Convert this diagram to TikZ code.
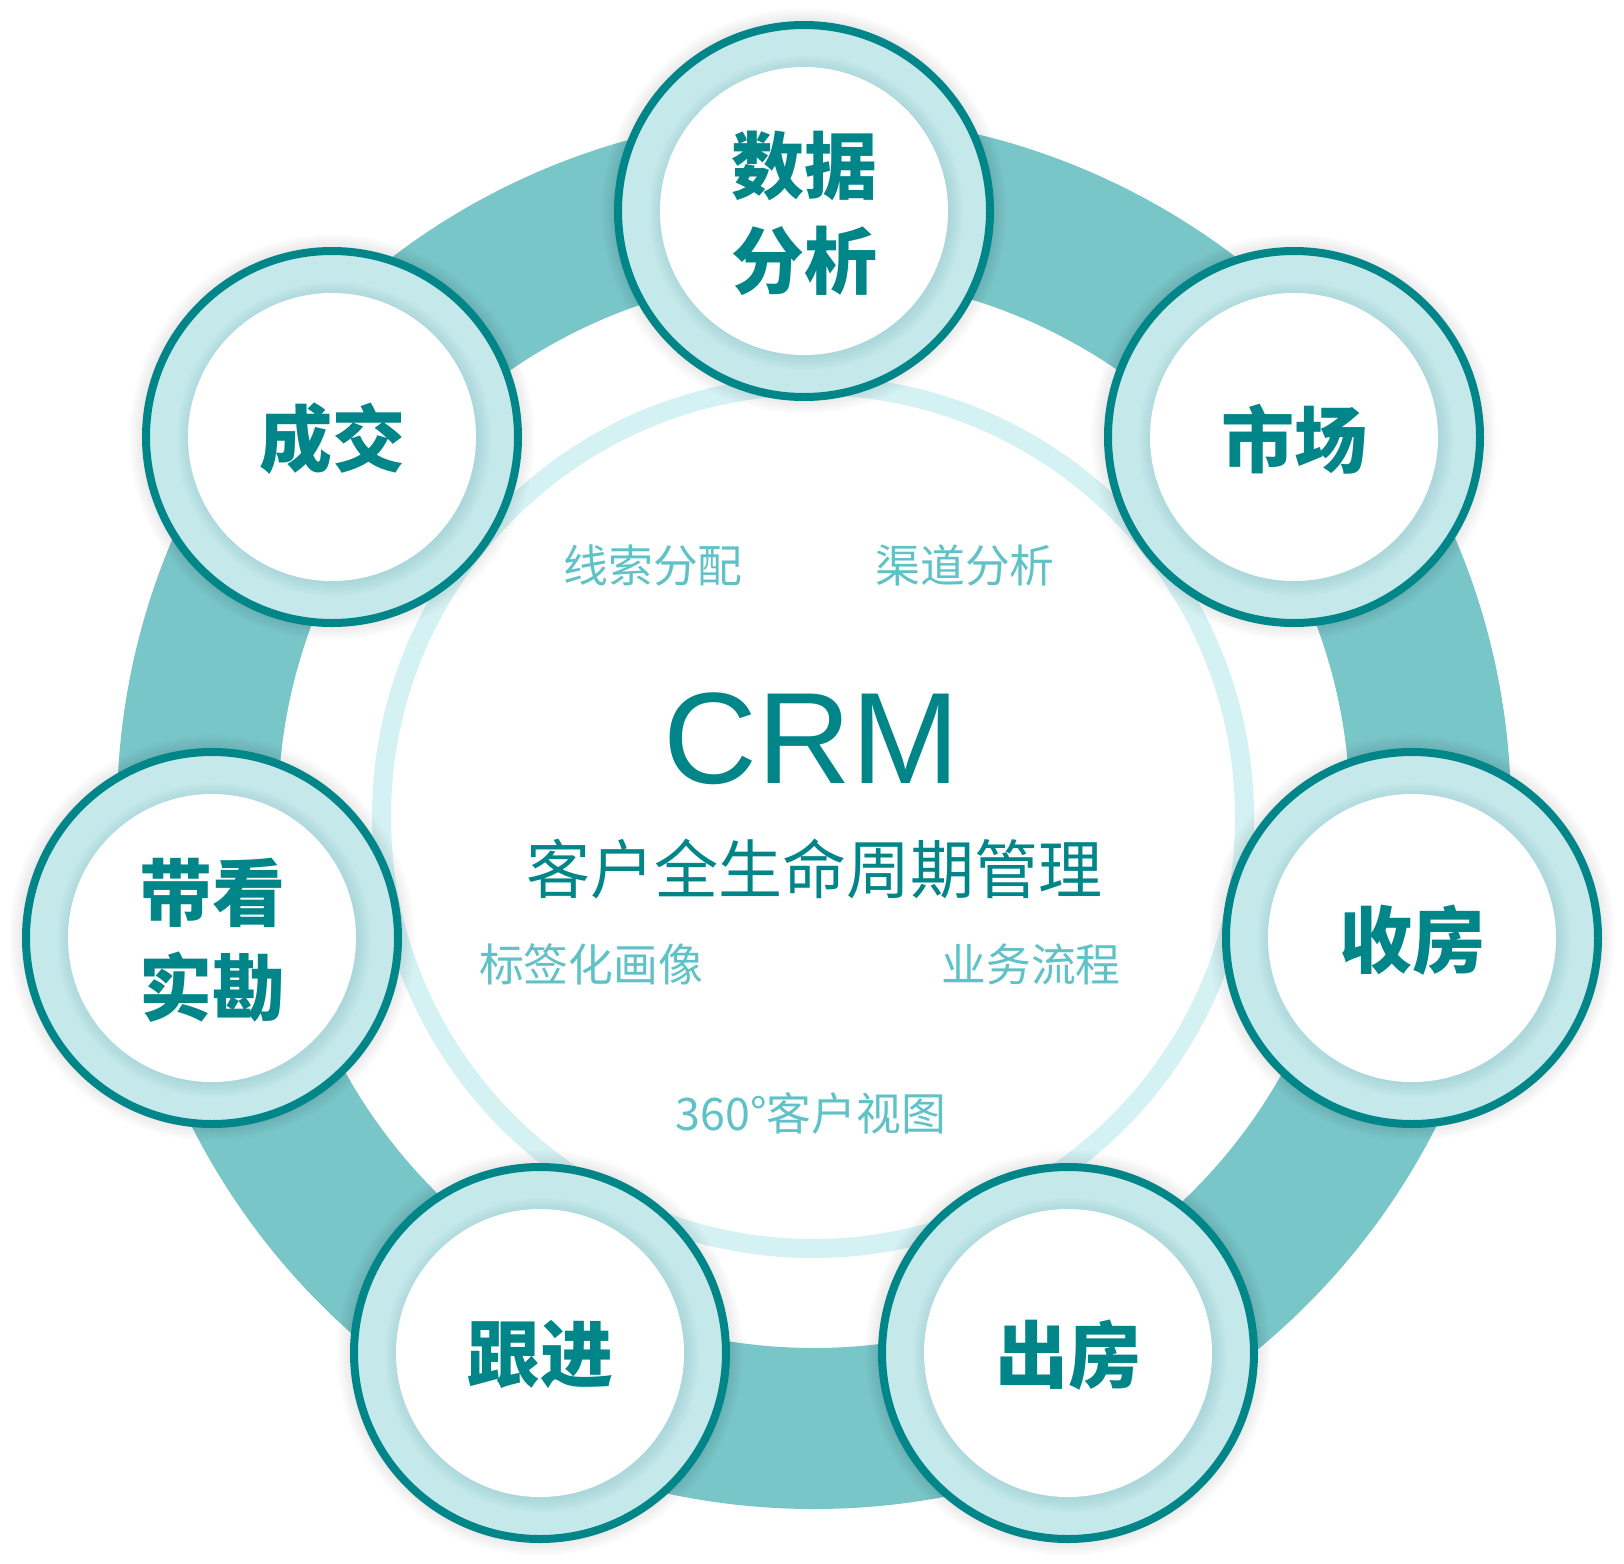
\documentclass[tikz,border=0pt]{standalone}
\usepackage{fontspec}
\setmainfont{Liberation Sans}
\newfontfamily\cjk{Noto Sans CJK SC}
\definecolor{darkteal}{RGB}{0,133,137}
\definecolor{ringteal}{RGB}{121,198,201}
\definecolor{nodefill}{RGB}{197,233,235}
\definecolor{palering}{RGB}{212,241,243}
\definecolor{labelc}{RGB}{94,194,198}
\definecolor{shadowc}{RGB}{60,140,145}
\tikzset{
  nodetext/.style={font=\cjk\bfseries\fontsize{36.5pt}{47.5pt}\selectfont, text=darkteal, align=center, inner sep=0pt},
  smalllabel/.style={font=\cjk\fontsize{22.4pt}{26pt}\selectfont, text=labelc, inner sep=0pt},
  titletext/.style={font=\cjk\fontsize{32pt}{38pt}\selectfont, text=darkteal, inner sep=0pt},
  crmtext/.style={font=\fontsize{65pt}{70pt}\selectfont, text=darkteal, inner sep=0pt, anchor=base}
}
\begin{document}
\begin{tikzpicture}[x=0.5pt,y=-0.5pt]
\useasboundingbox (0,0) rectangle (1624,1564);
\fill[white] (0,0) rectangle (1624,1564);
% big teal ring
\fill[ringteal, even odd rule] (814,812) circle[radius=697] (814,812) circle[radius=536];
% pale inner ring
\draw[palering, line width=9.5pt] (813,817) circle[radius=431.5];
% stage circles
\foreach \px/\py in {804/211, 1294/437, 1412/938, 1068/1353, 540/1353, 212/938, 332/437} {
  \foreach \r in {191,193,...,203} \fill[black, opacity=0.012] (\px,\py) circle[radius=\r];
  \fill[nodefill] (\px,\py) circle[radius=186];
  \draw[darkteal, line width=4pt] (\px,\py) circle[radius=186];
  \foreach \r in {145,147,...,157} \fill[shadowc, opacity=0.025] (\px+2,\py+2) circle[radius=\r];
  \fill[white] (\px,\py) circle[radius=144];
}
% stage labels
\node[nodetext] (s1) at (804,213) {数据\\分析};
\node[nodetext] (s2) at (1294,439) {市场};
\node[nodetext] (s3) at (1412,940) {收房};
\node[nodetext] (s4) at (1068,1355) {出房};
\node[nodetext] (s5) at (540,1355) {跟进};
\node[nodetext] (s6) at (212,940) {带看\\实勘};
\node[nodetext] (s7) at (332,439) {成交};
% centre
\node[crmtext] (crm) at (812,783) {CRM};
\node[titletext] (title) at (814,869) {客户全生命周期管理};
\node[smalllabel] (l1) at (653,565) {线索分配};
\node[smalllabel] (l2) at (965,565) {渠道分析};
\node[smalllabel] (l3) at (591,964) {标签化画像};
\node[smalllabel] (l4) at (1031,964) {业务流程};
\node[smalllabel] (l5) at (811,1113) {360°客户视图};
\end{tikzpicture}
\end{document}
